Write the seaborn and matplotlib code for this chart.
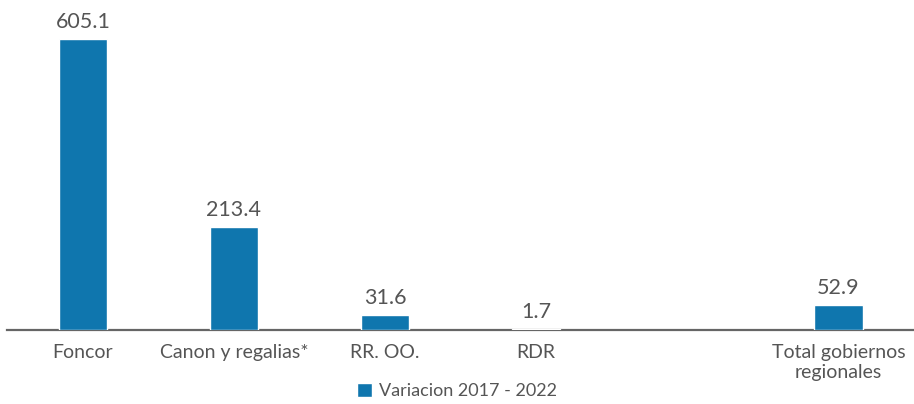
import numpy as np
import pandas as pd
import matplotlib
matplotlib.use("Agg")
import matplotlib.pyplot as plt
import seaborn as sns

# data
categories = ["Foncor", "Canon y regalias*", "RR. OO.", "RDR", " ", "Total gobiernos\nregionales"]
values = [605.1, 213.4, 31.6, 1.7, np.nan, 52.9]
series_name = "Variacion 2017 - 2022"

BAR_COLOR = "#0f76ae"
TEXT_COLOR = "#555555"

sns.set_style("white")
plt.rcParams["font.family"] = ["Lato", "DejaVu Sans"]

df = pd.DataFrame({"categoria": categories, "valor": values, "serie": series_name})

fig = plt.figure(figsize=(9.14, 4.04), dpi=100)
ax = fig.add_axes([0.008, 0.183, 0.992, 0.817])

sns.barplot(data=df, x="categoria", y="valor", hue="serie", order=categories,
            palette=[BAR_COLOR], width=0.32, ax=ax, saturation=1, zorder=3)

ax.set_xlim(-0.5, len(categories) - 0.5)
ax.set_ylim(0, 686)
ax.set_xlabel("")
ax.set_ylabel("")
ax.set_yticks([])
for s in ["top", "right", "left"]:
    ax.spines[s].set_visible(False)
ax.spines["bottom"].set_color("#666666")
ax.spines["bottom"].set_linewidth(1.6)
ax.spines["bottom"].set_zorder(2)
ax.tick_params(axis="x", length=0, pad=10, labelsize=14, labelcolor=TEXT_COLOR)

# value labels above each drawn bar (the empty slot has no bar)
for bar in ax.containers[0]:
    if bar is None or np.isnan(bar.get_height()):
        continue
    h = bar.get_height()
    ax.annotate(f"{h:.1f}", (bar.get_x() + bar.get_width() / 2, h),
                xytext=(0, 5), textcoords="offset points", ha="center", va="bottom",
                fontsize=15.5, color=TEXT_COLOR)

handles, lbls = ax.get_legend_handles_labels()
if ax.legend_ is not None:
    ax.legend_.remove()
fig.legend(handles, lbls, loc="lower center", bbox_to_anchor=(0.5, -0.028), frameon=False,
           fontsize=13, labelcolor=TEXT_COLOR, handlelength=0.8, handleheight=0.8,
           handletextpad=0.4)

fig.savefig("out.png", dpi=100)
